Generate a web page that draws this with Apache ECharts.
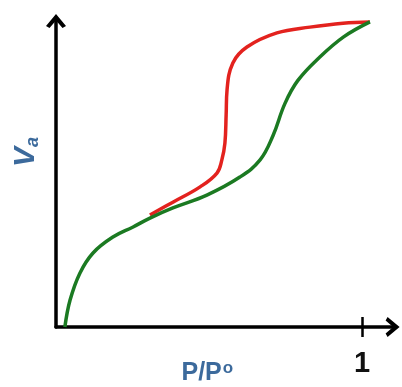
<!DOCTYPE html>
<html>
<head>
<meta charset="utf-8">
<script src="https://cdn.jsdelivr.net/npm/echarts@6/dist/echarts.min.js"></script>
<style>
    html, body { margin: 0; padding: 0; background: #fff; }
    #main { width: 402px; height: 387px; }
</style>
</head>
<body>
<div id="main"></div>
<script>
// isotherm curves (x = P/P°, y = Va normalized)
var adsorptionX = [0.029, 0.046, 0.078, 0.121, 0.186, 0.252, 0.307, 0.382, 0.493, 0.601, 0.667, 0.709, 0.748, 0.790, 0.860, 0.940, 1.026];
var adsorptionY = [0.000, 0.088, 0.176, 0.242, 0.294, 0.327, 0.356, 0.389, 0.431, 0.490, 0.546, 0.625, 0.730, 0.805, 0.880, 0.948, 0.997];

var desorptionX = [0.307, 0.382, 0.471, 0.526, 0.542, 0.552, 0.556, 0.559, 0.578, 0.624, 0.722, 0.830, 0.938, 1.026];
var desorptionY = [0.366, 0.408, 0.458, 0.503, 0.546, 0.601, 0.693, 0.775, 0.863, 0.915, 0.961, 0.980, 0.993, 0.997];

var xTicks = [1];

var pairs = function (xs, ys) {
    var out = [];
    for (var i = 0; i < xs.length; i++) {
        out.push([xs[i], ys[i]]);
    }
    return out;
};

var chevron = 'path://M0,12 L10,0 L20,12 L16.5,14 L10,6.5 L3.5,14 Z';
var labelColor = '#3c6a9c';

var myChart = echarts.init(document.getElementById('main'));

var option = {
    animation: false,
    grid: { left: 56, right: 9.4, top: 21, bottom: 60, outerBoundsMode: 'none', containLabel: false },
    xAxis: [
        {
            type: 'value',
            min: 0,
            max: 1.1,
            splitLine: { show: false },
            axisLine: {
                lineStyle: { color: '#000', width: 3.5 },
                symbol: ['none', chevron],
                symbolSize: [20, 15]
            },
            axisTick: { show: true, customValues: xTicks, length: 10, lineStyle: { color: '#000', width: 2.5 } },
            axisLabel: {
                customValues: xTicks,
                margin: 22,
                fontFamily: 'Liberation Sans',
                fontWeight: 'bold',
                fontSize: 29,
                color: '#111'
            },
            name: 'P/P{sup|o}',
            nameLocation: 'middle',
            nameGap: 33,
            nameMoveOverlap: false,
            nameTextStyle: {
                fontFamily: 'Liberation Sans',
                fontWeight: 'bold',
                fontSize: 25,
                color: labelColor,
                padding: [0, 34, 0, 0],
                rich: {
                    sup: { fontSize: 17, fontWeight: 'bold', color: labelColor, fontFamily: 'Liberation Sans', verticalAlign: 'top', padding: [0, 0, 10, 1] }
                }
            }
        },
        {
            type: 'value',
            min: 0,
            max: 1.1,
            position: 'bottom',
            splitLine: { show: false },
            axisLine: { show: false },
            axisLabel: { show: false },
            axisTick: { show: true, inside: true, customValues: xTicks, length: 10, lineStyle: { color: '#000', width: 2.5 } }
        }
    ],
    yAxis: {
        type: 'value',
        min: 0,
        max: 1,
        splitLine: { show: false },
        axisTick: { show: false },
        axisLabel: { show: false },
        axisLine: {
            lineStyle: { color: '#000', width: 3.5 },
            symbol: ['none', chevron],
            symbolSize: [20, 15]
        },
        name: '{v|V}{a|a}',
        nameLocation: 'middle',
        nameRotate: 90,
        nameGap: 14,
        nameTextStyle: {
            padding: [0, 0, 0, 44],
            rich: {
                v: { fontSize: 30, fontWeight: 'bold', fontStyle: 'italic', color: labelColor, fontFamily: 'Liberation Sans' },
                a: { fontSize: 18, fontWeight: 'bold', fontStyle: 'italic', color: labelColor, fontFamily: 'Liberation Sans', verticalAlign: 'bottom', padding: [14, 0, 0, 0] }
            }
        }
    },
    series: [
        {
            name: 'desorption',
            type: 'line',
            data: pairs(desorptionX, desorptionY),
            smooth: 0.4,
            showSymbol: false,
            clip: false,
            lineStyle: { color: '#e3221e', width: 3.5 }
        },
        {
            name: 'adsorption',
            type: 'line',
            data: pairs(adsorptionX, adsorptionY),
            smooth: 0.4,
            showSymbol: false,
            clip: false,
            lineStyle: { color: '#1b7a22', width: 3.5 }
        }
    ]
};

myChart.setOption(option);
</script>
</body>
</html>
